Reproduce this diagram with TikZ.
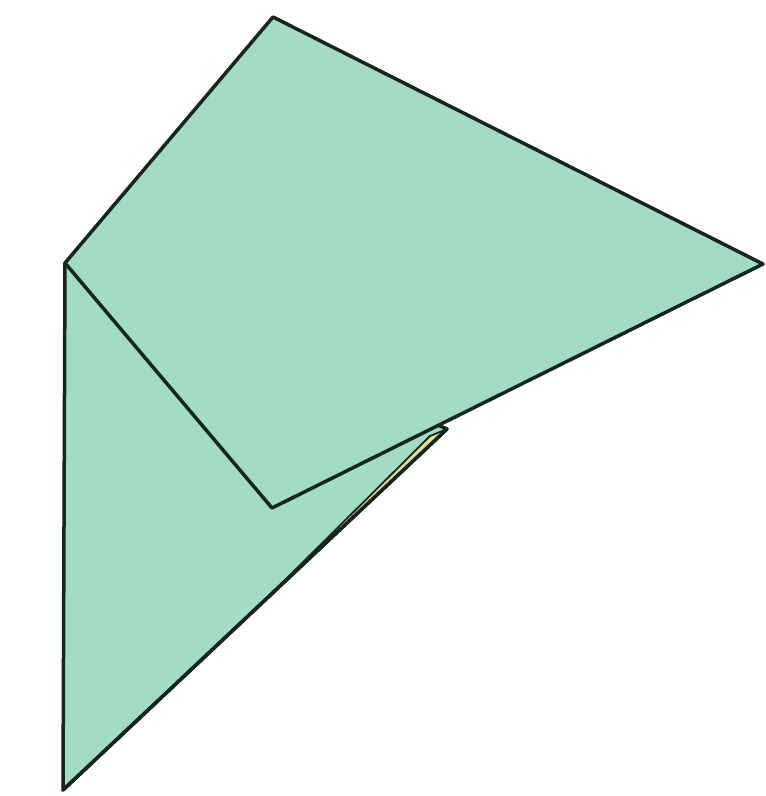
\documentclass[tikz,border=0pt]{standalone}
\definecolor{paper}{RGB}{160,221,196}
\definecolor{edge}{RGB}{22,38,30}
\definecolor{backside}{RGB}{226,222,160}
\tikzset{
  sheet/.style={fill=paper, draw=edge, line width=3.5pt, line join=round},
  sliver/.style={fill=backside, draw=edge, line width=1.8pt, line join=round}
}
\begin{document}
\begin{tikzpicture}[x=1pt,y=-1pt]
\useasboundingbox (0,0) rectangle (766,796);
% lower triangle
\coordinate (A) at (65,263);
\coordinate (B) at (63,790);
\coordinate (C) at (447,429);
\draw[sheet] (A) -- (B) -- (C) -- cycle;
% thin back-layer sliver
\coordinate (S1) at (430,436);
\coordinate (S2) at (280,585);
\draw[sliver] (C) -- (S1) -- (S2) -- cycle;
\draw[edge, line width=3.5pt, line cap=round] (B) -- (C);
% upper flap
\coordinate (T) at (273,17);
\coordinate (R) at (763,264);
\coordinate (D) at (272,508);
\draw[sheet] (A) -- (T) -- (R) -- (D) -- cycle;
\end{tikzpicture}
\end{document}
